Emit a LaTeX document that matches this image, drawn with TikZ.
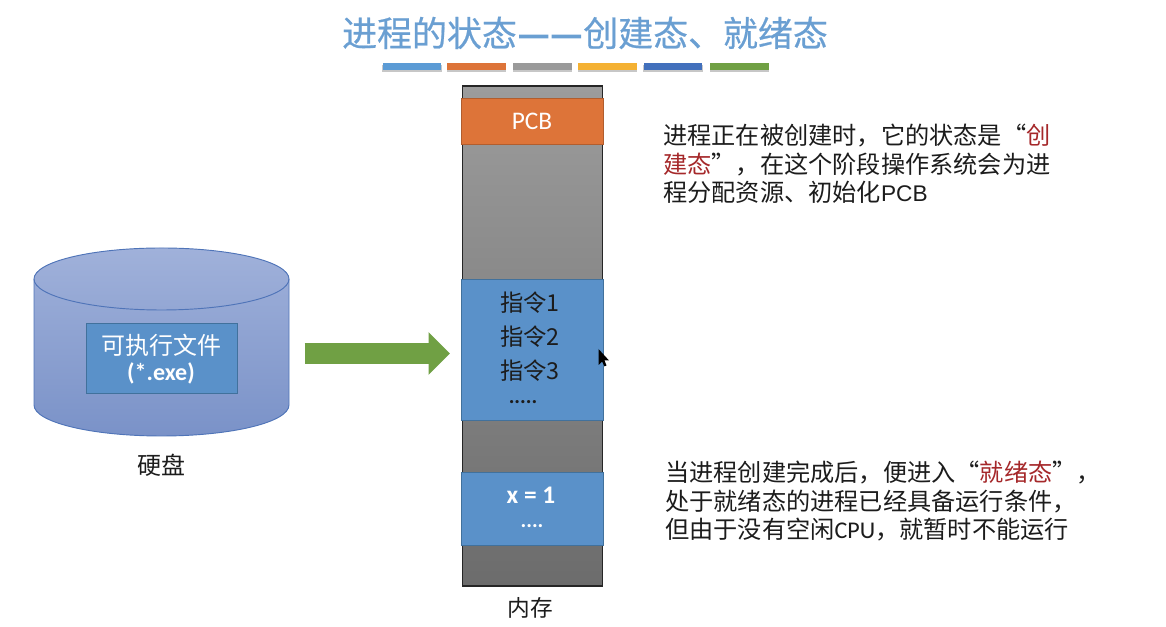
\documentclass[tikz,border=0pt]{standalone}
\usepackage{fontspec}
\setmainfont{Noto Sans CJK SC}
\newfontfamily\latinf{Carlito}
\newfontfamily\arialf{Liberation Sans}
\usetikzlibrary{arrows.meta}
\definecolor{titleblue}{HTML}{6A9FD2}
\definecolor{boxblue}{HTML}{5A91C9}
\definecolor{boxedge}{HTML}{41719C}
\definecolor{pcborange}{HTML}{DD7439}
\definecolor{arrowgreen}{HTML}{70A044}
\definecolor{cyledge}{HTML}{4F74B8}
\definecolor{cyltop}{HTML}{A0B1DA}
\definecolor{cylbot}{HTML}{7A92C8}
\definecolor{memtop}{HTML}{9C9C9C}
\definecolor{membot}{HTML}{6C6C6C}
\definecolor{txt}{HTML}{1C1C1C}
\definecolor{redtxt}{HTML}{A5282A}
\tikzset{
  memblock/.style={rectangle,draw=boxedge,line width=.5pt,fill=boxblue,inner sep=0pt,minimum width=106.5pt},
  bar/.style={rectangle,inner sep=0pt,minimum height=5pt,minimum width=44pt},
  barshadow/.style={rectangle,inner sep=0pt,minimum height=5.4pt,minimum width=44.5pt,fill=black!22},
  body/.style={anchor=north west,align=left,inner sep=0pt,text=txt,font=\fontsize{18.15}{21.4}\selectfont},
  lab/.style={inner sep=0pt,text=txt,font=\fontsize{17.5}{21}\selectfont},
  wlab/.style={inner sep=0pt,text=white,font=\fontsize{17}{20}\selectfont},
}
\begin{document}
\begin{tikzpicture}[x=.75pt,y=.75pt]
\useasboundingbox (0,0) rectangle (1166,627);
% title
\node[inner sep=0pt,text=titleblue,font=\addfontfeature{FakeBold=0.6}\fontsize{26.2}{30}\selectfont] (title) at (585,594) {进程的状态{\addfontfeature{FakeBold=4}\kern1pt—\kern1pt—\kern1pt}创建态、就绪态};
% bars
\foreach \n/\cx/\c in {a/412/5B9BD5,b/476.5/DD7439,c/542.5/9A9A9A,d/607.5/F4B133,e/673/4270BC,f/739.5/70A044}{
  \definecolor{barc}{HTML}{\c}
  \node[barshadow] at (\cx,558.5) {};
  \node[bar,fill=barc] (bar\n) at (\cx,560.5) {};
}
% disk
\draw[cyledge,line width=.7pt,top color=cyltop,bottom color=cylbot]
  (34,348) -- (34,222) arc[start angle=180,end angle=360,x radius=95.625pt,y radius=23.25pt]
  -- (289,348) arc[start angle=0,end angle=180,x radius=95.625pt,y radius=23.25pt] -- cycle;
\draw[cyledge,line width=.7pt] (34,348) arc[start angle=180,end angle=360,x radius=95.625pt,y radius=23.25pt];
\node[rectangle,draw=boxedge,line width=.5pt,fill=boxblue,minimum width=113pt,minimum height=53pt,inner sep=0pt] (exe) at (162,268.5) {};
\node[wlab,font=\fontsize{18}{21}\selectfont] (exe1) at (161,282) {可执行文件};
\node[wlab,font=\latinf\bfseries\fontsize{18}{21}\selectfont] (exe2) at (161,254) {(*.exe)};
\node[lab,font=\fontsize{18}{21}\selectfont] (disk) at (161,162) {硬盘};
% arrow
\coordinate (arrfrom) at (304.5,273.5);
\coordinate (arrto) at (450,273.5);
\draw[arrowgreen,line width=15.4pt,-{Triangle[length=16pt,width=31pt]}] (arrfrom) -- (arrto);
% memory
\node[rectangle,draw=black!85,line width=.8pt,top color=memtop,bottom color=membot,minimum width=105.5pt,minimum height=375pt,inner sep=0pt] (mem) at (532.5,291) {};
\node[memblock,fill=pcborange,draw=pcborange!80!black,minimum height=34.5pt] (pcb) at (532,506) {};
\node[wlab,font=\latinf\fontsize{19}{22}\selectfont] (pcbt) at (532,506) {PCB};
\node[memblock,minimum height=105.75pt] (code) at (532,277.5) {};
\node[lab] (i1) at (530,324) {指令1};
\node[lab] (i2) at (530,290) {指令2};
\node[lab] (i3) at (530,256) {指令3};
\node[lab,font=\latinf\bfseries\fontsize{16}{18}\selectfont] (i4) at (523,225) {.....};
\node[memblock,minimum height=54.75pt] (data) at (532,118.5) {};
\node[wlab,font=\latinf\bfseries\fontsize{19}{22}\selectfont] (d1) at (531,132) {x = 1};
\node[wlab,font=\latinf\bfseries\fontsize{16}{18}\selectfont] (d2) at (532,101) {....};
\node[lab,font=\fontsize{17}{20}\selectfont] (memlab) at (530,19) {内存};
% cursor
\fill[black] (598.5,278) -- (598.5,262) -- (602,265.5) -- (604.5,260.5) -- (606.5,261.5) -- (604.5,266.5) -- (609,266.5) -- cycle;
% texts
\node[body] (t1) at (663,503) {进程正在被创建时，它的状态是“\textcolor{redtxt}{创}\\\textcolor{redtxt}{建态}”，在这个阶段操作系统会为进\\程分配资源、初始化{\arialf\fontsize{17}{21.4}\selectfont PCB}};
\node[body] (t2) at (665,166) {当进程创建完成后，便进入“\textcolor{redtxt}{就绪态}”，\\处于就绪态的进程已经具备运行条件，\\但由于没有空闲{\latinf\fontsize{18}{21.4}\selectfont CPU}，就暂时不能运行};
\end{tikzpicture}
\end{document}
